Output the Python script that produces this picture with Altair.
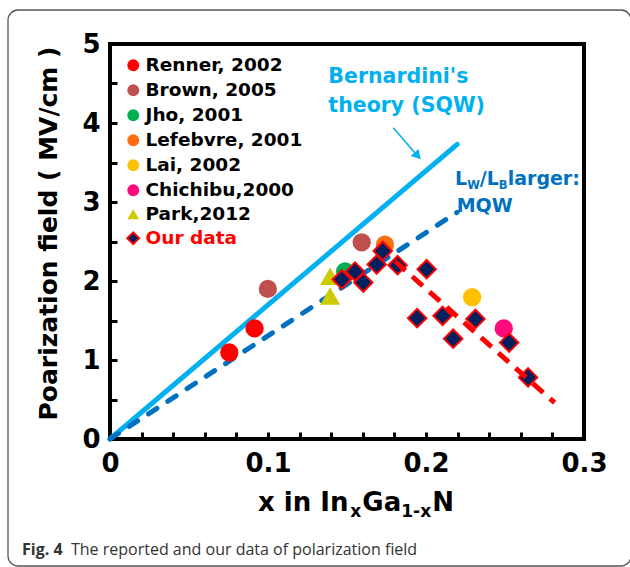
import altair as alt
import pandas as pd

# ---------------- data ----------------
series_names = ["Renner, 2002", "Brown, 2005", "Jho, 2001", "Lefebvre, 2001",
                "Lai, 2002", "Chichibu,2000", "Park,2012", "Our data"]
series_colors = ["#ff0000", "#c0504d", "#00b050", "#ff6d10",
                 "#ffc000", "#ff0a7a", "#cccc00", "#002060"]
series_shapes = ["circle", "circle", "circle", "circle", "circle", "circle",
                 "triangle-up", "diamond"]
series_strokes = ["transparent"] * 7 + ["#ff0000"]
series_sizes = [335, 335, 335, 335, 335, 335, 400, 340]

renner_x = [0.0755, 0.0915]
renner_y = [1.095, 1.40]
brown_x = [0.0999, 0.1593]
brown_y = [1.90, 2.49]
jho_x = [0.1488]
jho_y = [2.12]
lefebvre_x = [0.174]
lefebvre_y = [2.46]
lai_x = [0.2292]
lai_y = [1.795]
chichibu_x = [0.2492]
chichibu_y = [1.40]
park_x = [0.1393, 0.1393]
park_y = [2.06, 1.81]
our_x = [0.1467, 0.1551, 0.1603, 0.1688, 0.1726, 0.1820, 0.2004,
         0.1944, 0.2105, 0.2172, 0.2313, 0.2526, 0.2646]
our_y = [2.02, 2.12, 1.98, 2.21, 2.38, 2.20, 2.15,
         1.53, 1.56, 1.27, 1.52, 1.22, 0.78]

theory_x = [0.0, 0.2197]
theory_y = [0.0, 3.73]
mqw_x = [0.0, 0.2197]
mqw_y = [0.0, 2.87]
fit_x = [0.1804, 0.2814]
fit_y = [2.25, 0.46]
arrow_x = [0.1793, 0.1947]
arrow_y = [3.94, 3.583]

x_ticks = [0.0, 0.02, 0.04, 0.06, 0.08, 0.10, 0.12, 0.14, 0.16, 0.18,
           0.20, 0.22, 0.24, 0.26, 0.28, 0.30]
x_labels = ["0", "0.1", "0.2", "0.3"]
y_ticks = [0, 0.5, 1, 1.5, 2, 2.5, 3, 3.5, 4, 4.5, 5]
y_labels = ["0", "1", "2", "3", "4", "5"]

series_xs = [renner_x, brown_x, jho_x, lefebvre_x, lai_x, chichibu_x, park_x, our_x]
series_ys = [renner_y, brown_y, jho_y, lefebvre_y, lai_y, chichibu_y, park_y, our_y]

rows = []
for name, sz, xs_, ys_ in zip(series_names, series_sizes, series_xs, series_ys):
    for a, b in zip(xs_, ys_):
        rows.append({"src": name, "x": a, "y": b, "sz": sz})
points_df = pd.DataFrame(rows)

W, H = 474, 395
FONT = "DejaVu Sans"

xs = alt.Scale(domain=[0, 0.3], nice=False, zero=False)
ys = alt.Scale(domain=[0, 5], nice=False, zero=False)


def lab_expr(labels):
    arr = ",".join("'%s'" % l for l in labels)
    return "indexof([%s], datum.label) >= 0 ? datum.label : ''" % arr


x_axis = alt.Axis(values=x_ticks, format=".2~f", labelExpr=lab_expr(x_labels),
                  labelFlush=False, labelOverlap=False, domain=False, grid=False,
                  tickSize=7, tickWidth=3, tickColor="black", offset=-7,
                  labelPadding=11, labelFont=FONT, labelFontWeight="bold",
                  labelFontSize=26, labelColor="black", title=None)
y_axis = alt.Axis(values=y_ticks, format=".1~f", labelExpr=lab_expr(y_labels),
                  labelFlush=False, labelOverlap=False, domain=False, grid=False,
                  tickSize=7, tickWidth=3, tickColor="black", offset=-7,
                  labelPadding=10, labelFont=FONT, labelFontWeight="bold",
                  labelFontSize=26, labelColor="black",
                  title="Poarization field ( MV/cm )", titleFont=FONT,
                  titleFontWeight="bold", titleFontSize=25, titleColor="black",
                  titleAngle=270, titleBaseline="alphabetic", titleX=-61, titleY=189)

X = alt.X("x:Q", scale=xs, axis=x_axis)
Y = alt.Y("y:Q", scale=ys, axis=y_axis)


def line(xv, yv, **kw):
    df = pd.DataFrame({"x": xv, "y": yv})
    return alt.Chart(df).mark_line(**kw).encode(x=X, y=Y)


def txt(text, x, y, size, color, dx=0, dy=0, weight="bold", font=FONT):
    df = pd.DataFrame({"x": [x], "y": [y], "t": [text]})
    return alt.Chart(df).mark_text(align="left", baseline="alphabetic", font=font,
                                   fontSize=size, fontWeight=weight, color=color,
                                   dx=dx, dy=dy).encode(x=X, y=Y, text="t:N")


border = alt.Chart(alt.Data(values=[{"a": 1}])).mark_rect(
    filled=False, stroke="#555555", strokeWidth=1.3, cornerRadius=10
).encode(x=alt.value(-102), x2=alt.value(521), y=alt.value(-34), y2=alt.value(522))

theory = line(theory_x, theory_y, color="#00b0f0", strokeWidth=5, strokeCap="round")
mqw = line(mqw_x, mqw_y, color="#0070c0", strokeWidth=5, strokeCap="round",
           strokeDash=[10, 13])
arrow = line(arrow_x, arrow_y, color="#00b0f0", strokeWidth=1.5)
arrow_head = alt.Chart(pd.DataFrame({"x": [arrow_x[1]], "y": [arrow_y[1]]})).mark_point(
    shape="triangle-up", filled=True, color="#00b0f0", size=110, angle=139, opacity=1
).encode(x=X, y=Y)

leg = alt.Legend(title=None, orient="none", legendX=14, legendY=12, padding=0,
                 labelFont=FONT, labelFontWeight="bold", labelFontSize=18.5,
                 labelColor={"expr": "datum.label === 'Our data' ? '#ff0000' : '#000000'"},
                 symbolSize=140, symbolStrokeWidth=2, rowPadding=4, labelOffset=3,
                 symbolOpacity=1)

points = alt.Chart(points_df).mark_point(filled=True, opacity=1, strokeWidth=2).encode(
    x=X, y=Y,
    fill=alt.Fill("src:N", scale=alt.Scale(domain=series_names, range=series_colors), legend=leg),
    shape=alt.Shape("src:N", scale=alt.Scale(domain=series_names, range=series_shapes), legend=leg),
    stroke=alt.Stroke("src:N", scale=alt.Scale(domain=series_names, range=series_strokes), legend=leg),
    size=alt.Size("sz:Q", scale=None),
)

fit = line(fit_x, fit_y, color="#ff0000", strokeWidth=5, strokeDash=[14, 9])

LB = "#00b0f0"
DB = "#0070c0"
annots = [
    txt("Bernardini's", 0.1382, 4.503, 20.5, LB),
    txt("theory (SQW)", 0.1382, 4.143, 20.5, LB),
    txt("L", 0.2184, 3.215, 19, DB),
    txt("W", 0.2184, 3.215, 11.5, DB, dx=12.1, dy=4),
    txt("/", 0.2184, 3.215, 19, DB, dx=24.8),
    txt("L", 0.2184, 3.215, 19, DB, dx=31.7),
    txt("B", 0.2184, 3.215, 11.5, DB, dx=43.8, dy=4),
    txt("larger:", 0.2184, 3.215, 19, DB, dx=52.6),
    txt("MQW", 0.2194, 2.877, 19, DB),
    # x axis title with subscripts
    txt("x in In", 0.0937, -0.911, 26, "black"),
    txt("x", 0.0937, -0.911, 17, "black", dx=92.2, dy=6),
    txt("Ga", 0.0937, -0.911, 26, "black", dx=104.3),
    txt("1-x", 0.0937, -0.911, 17, "black", dx=143.2, dy=6),
    txt("N", 0.0937, -0.911, 26, "black", dx=174.2),
    # caption
    txt("Fig. 4", -0.0557, -1.468, 16, "#333333", font="Open Sans"),
    txt("The reported and our data of polarization field", -0.0557, -1.468, 16,
        "#333333", dx=49, weight="normal", font="Open Sans"),
]

chart = alt.layer(border, theory, mqw, arrow, arrow_head, points, fit, *annots).properties(
    width=W, height=H,
    padding={"left": 110, "top": 44, "right": 46, "bottom": 128},
    autosize=alt.AutoSizeParams(type="none"),
    background="white",
).configure_view(stroke="black", strokeWidth=4)

chart.save("out.html", embed_options={"renderer": "svg", "actions": False})
